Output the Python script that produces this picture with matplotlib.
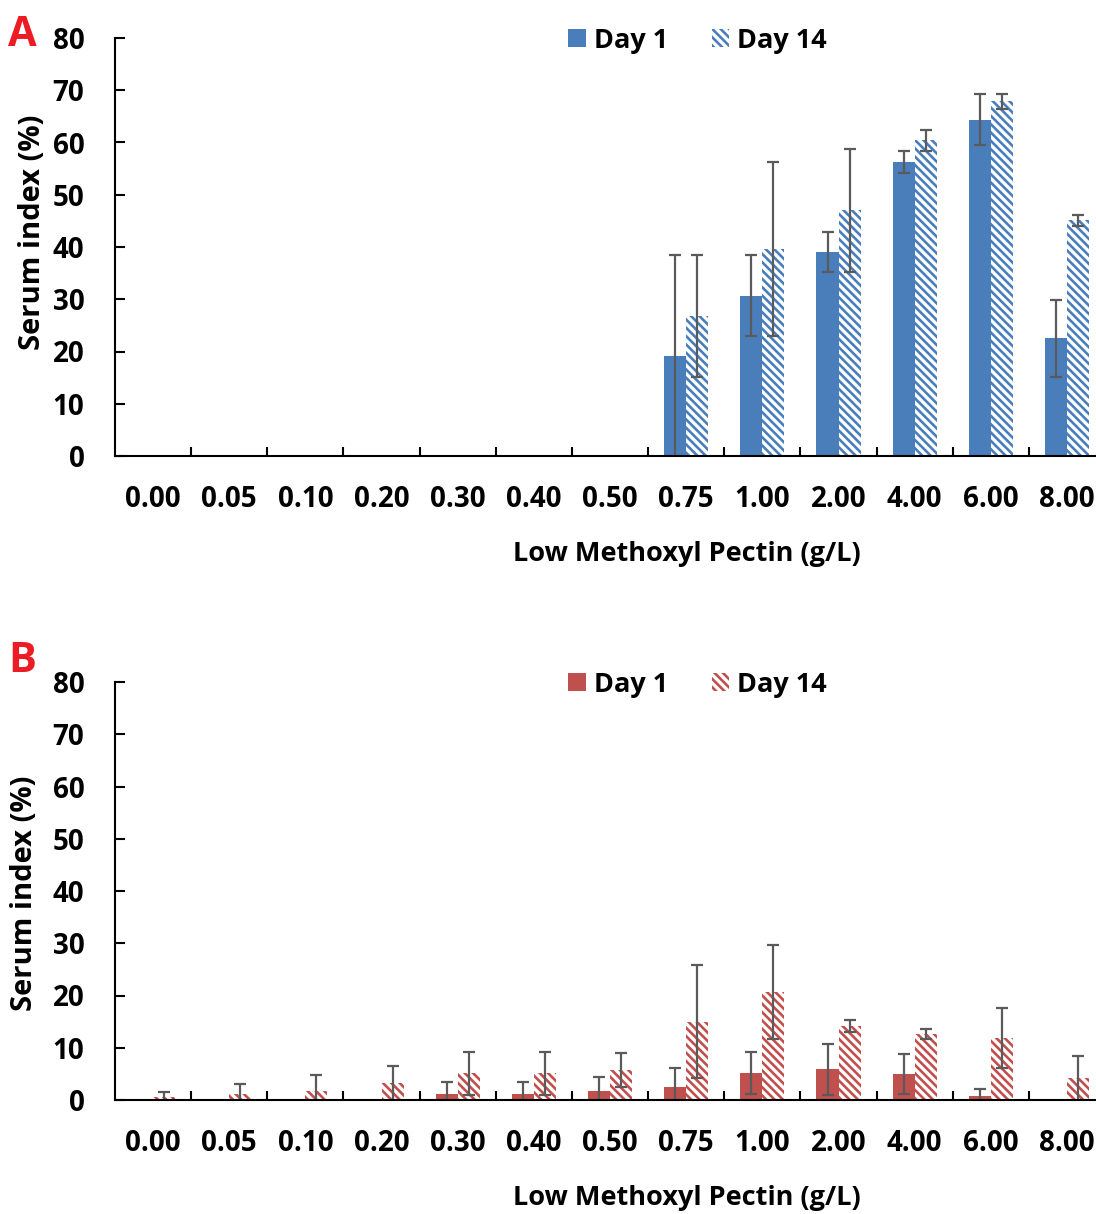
import numpy as np
import matplotlib
matplotlib.use("Agg")
import matplotlib.pyplot as plt

plt.rcParams["font.family"] = ["Open Sans", "DejaVu Sans"]
plt.rcParams["hatch.linewidth"] = 1.9

# 데이터
conc = ["0.00", "0.05", "0.10", "0.20", "0.30", "0.40", "0.50",
        "0.75", "1.00", "2.00", "4.00", "6.00", "8.00"]
nan = np.nan

a_day1 = [0, 0, 0, 0, 0, 0, 0, 19.1, 30.7, 39.0, 56.3, 64.4, 22.5]
a_day1_err = [nan, nan, nan, nan, nan, nan, nan, 19.3, 7.8, 3.8, 2.1, 4.8, 7.3]
a_day14 = [0, 0, 0, 0, 0, 0, 0, 26.8, 39.6, 47.0, 60.4, 67.9, 45.1]
a_day14_err = [nan, nan, nan, nan, nan, nan, nan, 11.6, 16.6, 11.7, 2.0, 1.4, 1.0]

b_day1 = [0, 0, 0, 0, 1.2, 1.2, 1.7, 2.4, 5.1, 5.9, 5.0, 0.8, 0]
b_day1_err = [nan, nan, nan, nan, 2.2, 2.2, 2.7, 3.7, 4.0, 4.9, 3.8, 1.4, nan]
b_day14 = [0.6, 1.1, 1.8, 3.2, 5.1, 5.1, 5.7, 15.0, 20.7, 14.2, 12.6, 11.9, 4.2]
b_day14_err = [0.9, 2.0, 3.0, 3.3, 4.1, 4.1, 3.3, 10.8, 9.0, 1.2, 0.9, 5.8, 4.3]

BLUE = "#4A7EBB"
RED = "#C0504D"
ERR = "#5A5A5A"
W = 0.29

fig = plt.figure(figsize=(10.96, 12.14), dpi=100)
ax_a = fig.add_axes([115 / 1096, 1 - 456 / 1214, 981 / 1096, 418 / 1214])
ax_b = fig.add_axes([115 / 1096, 1 - 1100 / 1214, 981 / 1096, 418 / 1214])


def panel(ax, d1, e1, d14, e14, color, letter, letter_y):
    x = np.arange(len(conc))
    ax.bar(x - W / 2, d1, W, color=color, linewidth=0, label="Day 1")
    ax.bar(x + W / 2, d14, W, facecolor="white", edgecolor=color,
           linewidth=0, hatch="\\\\\\\\", label="Day 14")
    ax.errorbar(x - W / 2, d1, yerr=e1, fmt="none", ecolor=ERR,
                elinewidth=1.6, capsize=4.5, capthick=1.6)
    ax.errorbar(x + W / 2, d14, yerr=e14, fmt="none", ecolor=ERR,
                elinewidth=1.6, capsize=4.5, capthick=1.6)

    ax.set_xlim(-0.5, 12.38)
    ax.set_ylim(0, 80)
    ax.set_yticks(range(0, 81, 10))
    ax.set_xticks(x)
    ax.set_xticklabels(conc)
    ax.set_xticks(np.arange(0.5, 12, 1), minor=True)
    for s in ["top", "right"]:
        ax.spines[s].set_visible(False)
    for s in ["left", "bottom"]:
        ax.spines[s].set_linewidth(1.5)
    ax.tick_params(axis="y", direction="in", length=7, width=1.5, pad=22,
                   labelsize=20)
    ax.tick_params(axis="x", which="major", length=0, pad=21, labelsize=20)
    ax.tick_params(axis="x", which="minor", direction="in", length=6.5,
                   width=1.5)
    for lab in ax.get_xticklabels() + ax.get_yticklabels():
        lab.set_fontweight("bold")

    ax.set_ylabel("Serum index (%)", fontsize=21, fontweight="bold",
                  va="center")
    ax.set_xlabel("Low Methoxyl Pectin (g/L)", fontsize=19.5,
                  fontweight="bold", va="center")
    ax.xaxis.set_label_coords(0.583, -0.234)

    ax.legend(loc="center", bbox_to_anchor=(0.594, 0.993), ncol=2,
              frameon=False, prop={"weight": "bold", "size": 19.5},
              handlelength=0.65, handleheight=0.65, handletextpad=0.3,
              columnspacing=1.6)

    fig.text(8 / 1096, letter_y, letter, color="#ED1C24", fontsize=30,
             fontweight="bold", ha="left", va="center")


panel(ax_a, a_day1, a_day1_err, a_day14, a_day14_err, BLUE, "A",
      1 - 35 / 1214)
panel(ax_b, b_day1, b_day1_err, b_day14, b_day14_err, RED, "B",
      1 - 661 / 1214)
ax_a.yaxis.set_label_coords(-0.0836, 0.536)
ax_b.yaxis.set_label_coords(-0.092, 0.495)

fig.savefig("out.png", dpi=100)
plt.close(fig)
